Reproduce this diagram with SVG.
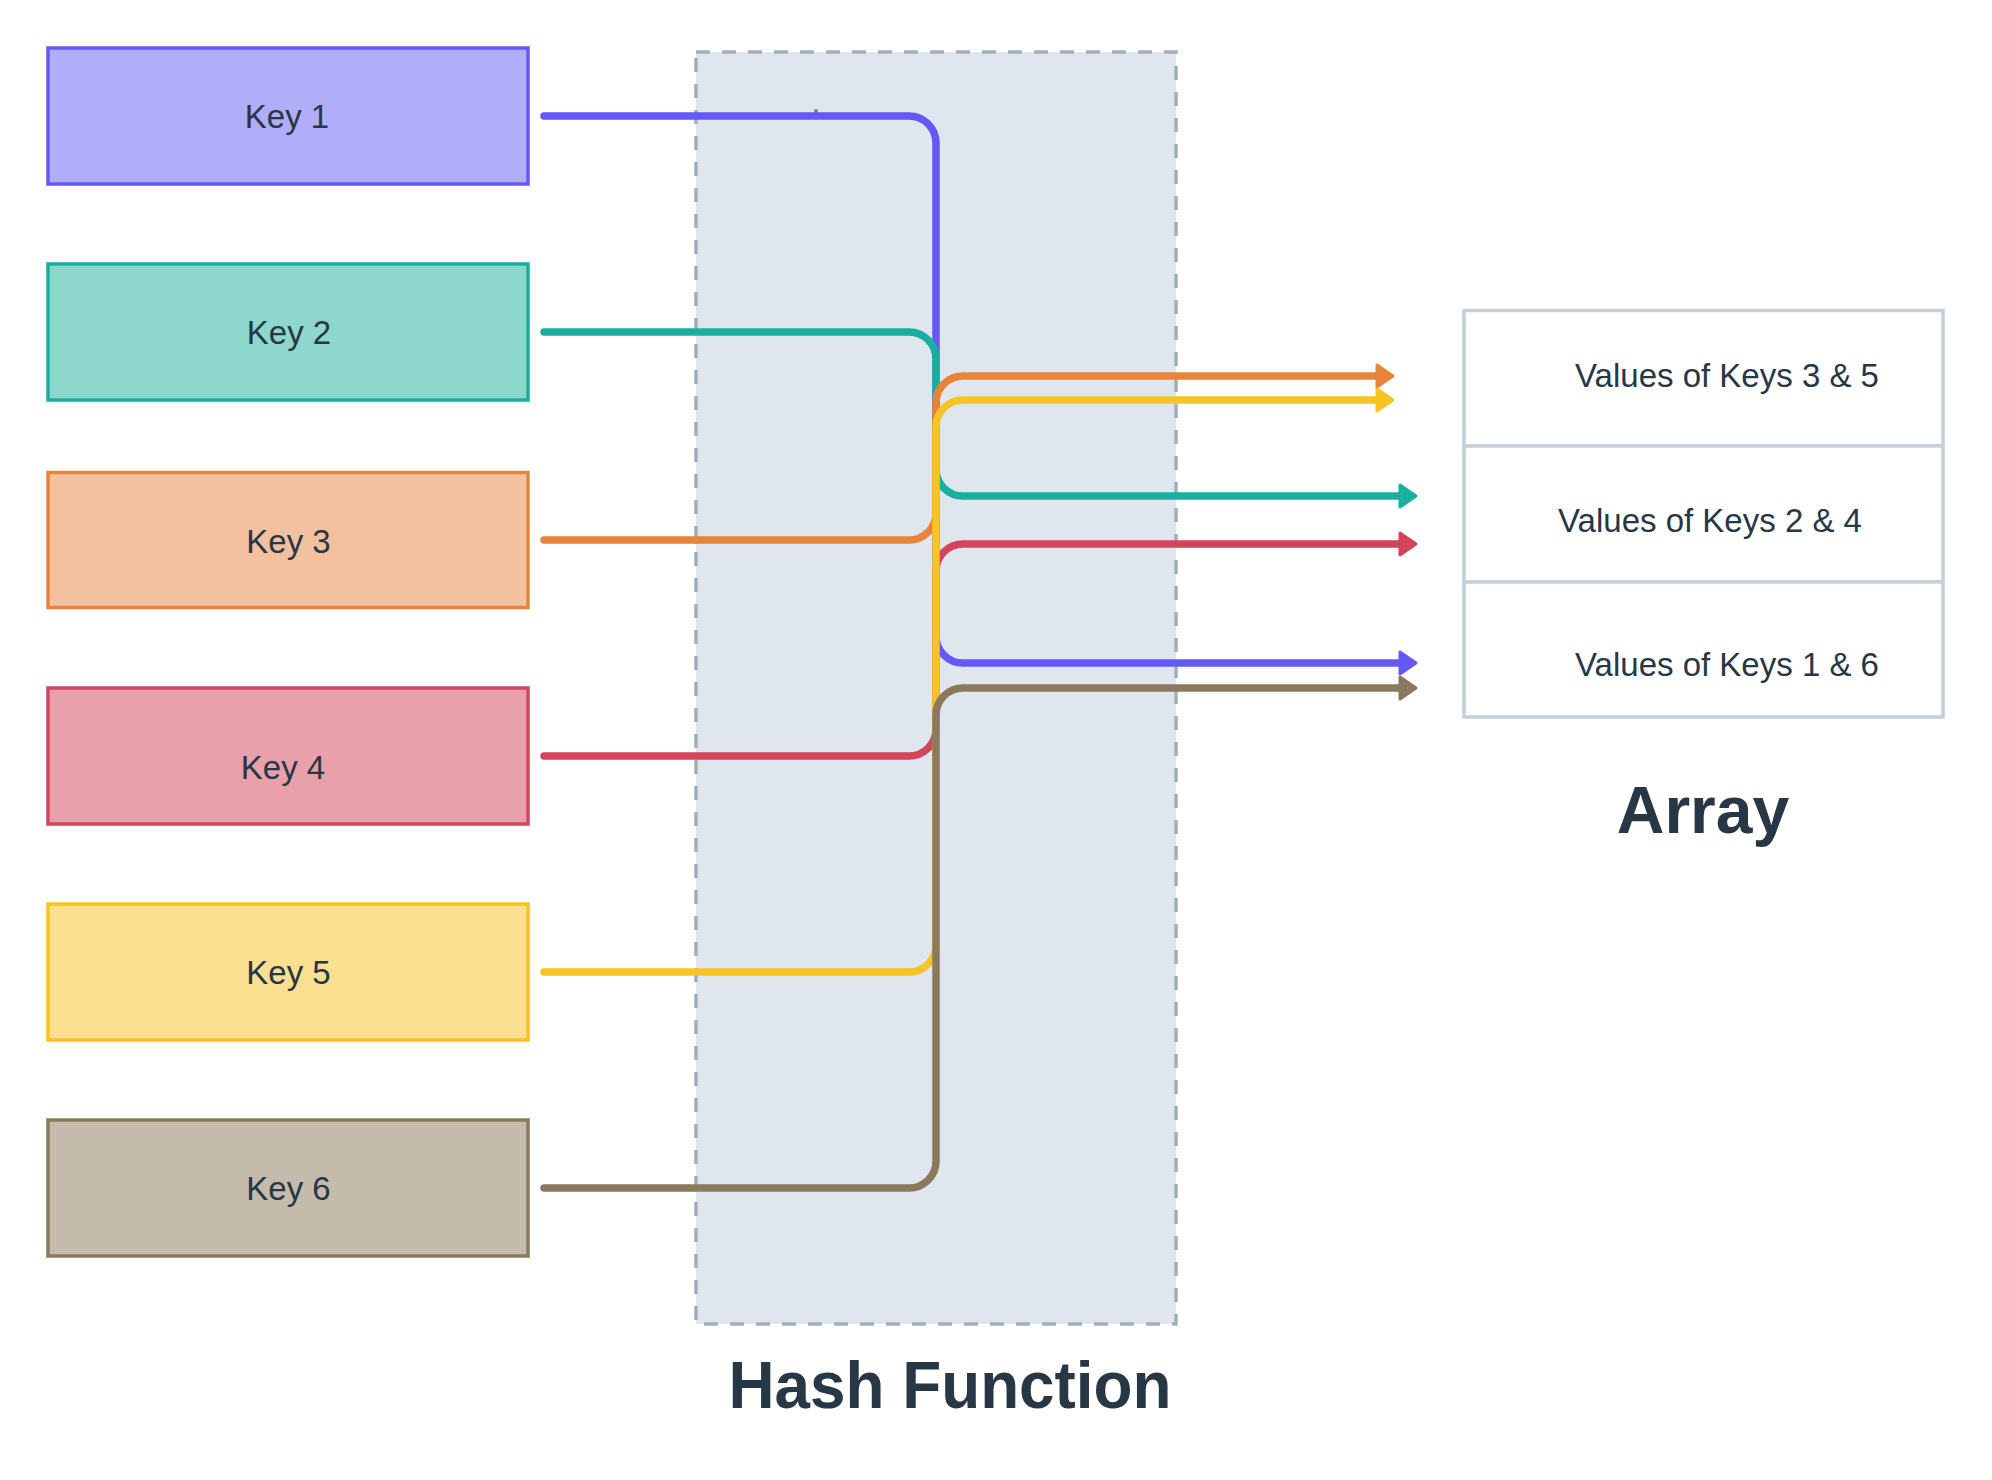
<svg xmlns="http://www.w3.org/2000/svg" width="1992" height="1480" viewBox="0 0 1992 1480">
  <style>
    .key { stroke-width: 3.5; }
    .label { font-family: "Liberation Sans", Arial, sans-serif; font-size: 33px; fill: #283746; text-anchor: middle; }
    .title { font-family: "Liberation Sans", Arial, sans-serif; font-size: 66px; font-weight: bold; fill: #283746; text-anchor: middle; }
    .conn { fill: none; stroke-width: 7.5; stroke-linecap: round; stroke-linejoin: round; }
    .cell { fill: #ffffff; stroke: #c3cfd9; stroke-width: 3.5; }
  </style>
  <defs>
    <marker id="ah-purple" viewBox="-3 -14 24 28" markerWidth="24" markerHeight="28" refX="0" refY="0" orient="auto" markerUnits="userSpaceOnUse">
      <path d="M0,-11 L16,0 L0,11 Z" fill="#6558f5" stroke="#6558f5" stroke-width="3" stroke-linejoin="round"/>
    </marker>
    <marker id="ah-teal" viewBox="-3 -14 24 28" markerWidth="24" markerHeight="28" refX="0" refY="0" orient="auto" markerUnits="userSpaceOnUse">
      <path d="M0,-11 L16,0 L0,11 Z" fill="#1aae9f" stroke="#1aae9f" stroke-width="3" stroke-linejoin="round"/>
    </marker>
    <marker id="ah-orange" viewBox="-3 -14 24 28" markerWidth="24" markerHeight="28" refX="0" refY="0" orient="auto" markerUnits="userSpaceOnUse">
      <path d="M0,-11 L16,0 L0,11 Z" fill="#e8833a" stroke="#e8833a" stroke-width="3" stroke-linejoin="round"/>
    </marker>
    <marker id="ah-red" viewBox="-3 -14 24 28" markerWidth="24" markerHeight="28" refX="0" refY="0" orient="auto" markerUnits="userSpaceOnUse">
      <path d="M0,-11 L16,0 L0,11 Z" fill="#d3455b" stroke="#d3455b" stroke-width="3" stroke-linejoin="round"/>
    </marker>
    <marker id="ah-yellow" viewBox="-3 -14 24 28" markerWidth="24" markerHeight="28" refX="0" refY="0" orient="auto" markerUnits="userSpaceOnUse">
      <path d="M0,-11 L16,0 L0,11 Z" fill="#f7c325" stroke="#f7c325" stroke-width="3" stroke-linejoin="round"/>
    </marker>
    <marker id="ah-brown" viewBox="-3 -14 24 28" markerWidth="24" markerHeight="28" refX="0" refY="0" orient="auto" markerUnits="userSpaceOnUse">
      <path d="M0,-11 L16,0 L0,11 Z" fill="#8a795d" stroke="#8a795d" stroke-width="3" stroke-linejoin="round"/>
    </marker>
  </defs>

  <rect width="1992" height="1480" fill="#ffffff"/>

  <g id="hash-function">
    <rect x="696" y="52" width="480" height="1272" fill="#dfe6ee" stroke="#a0afbb" stroke-width="3.5" stroke-dasharray="14 12"/>
    <circle cx="816" cy="111" r="2" fill="#6f7f8d"/>
    <text class="title" x="950" y="1408" textLength="443" lengthAdjust="spacingAndGlyphs">Hash Function</text>
  </g>

  <g id="key1">
    <rect class="key" x="48" y="48" width="480" height="136" fill="#b1adf9" stroke="#6558f5"/>
    <text class="label" x="287" y="128">Key 1</text>
  </g>
  <g id="key2">
    <rect class="key" x="48" y="264" width="480" height="136" fill="#8ed7cd" stroke="#1aae9f"/>
    <text class="label" x="289" y="344">Key 2</text>
  </g>
  <g id="key3">
    <rect class="key" x="48" y="472.5" width="480" height="135" fill="#f3c19f" stroke="#e8833a"/>
    <text class="label" x="288.5" y="552.5">Key 3</text>
  </g>
  <g id="key4">
    <rect class="key" x="48" y="688" width="480" height="136" fill="#e8a0ab" stroke="#d3455b"/>
    <text class="label" x="283" y="779">Key 4</text>
  </g>
  <g id="key5">
    <rect class="key" x="48" y="904" width="480" height="136" fill="#fae090" stroke="#f7c325"/>
    <text class="label" x="288.5" y="983.5">Key 5</text>
  </g>
  <g id="key6">
    <rect class="key" x="48" y="1120" width="480" height="136" fill="#c4bbad" stroke="#8a795d"/>
    <text class="label" x="288.5" y="1199.5">Key 6</text>
  </g>

  <g id="array">
    <rect class="cell" x="1464" y="310.5" width="479" height="135.5"/>
    <rect class="cell" x="1464" y="446" width="479" height="136"/>
    <rect class="cell" x="1464" y="582" width="479" height="135"/>
    <text class="label" x="1727" y="387">Values of Keys 3 &amp; 5</text>
    <text class="label" x="1710" y="532">Values of Keys 2 &amp; 4</text>
    <text class="label" x="1727" y="676">Values of Keys 1 &amp; 6</text>
    <text class="title" x="1703" y="833">Array</text>
  </g>

  <g id="connectors">
    <path class="conn" stroke="#6558f5" marker-end="url(#ah-purple)" d="M544,116 H909 A27,27 0 0 1 936,143 V636 A27,27 0 0 0 963,663 H1400"/>
    <path class="conn" stroke="#1aae9f" marker-end="url(#ah-teal)" d="M544,332 H909 A27,27 0 0 1 936,359 V469 A27,27 0 0 0 963,496 H1400"/>
    <path class="conn" stroke="#e8833a" marker-end="url(#ah-orange)" d="M544,540 H909 A27,27 0 0 0 936,513 V403 A27,27 0 0 1 963,376 H1377"/>
    <path class="conn" stroke="#d3455b" marker-end="url(#ah-red)" d="M544,756 H909 A27,27 0 0 0 936,729 V571 A27,27 0 0 1 963,544 H1400"/>
    <path class="conn" stroke="#f7c325" marker-end="url(#ah-yellow)" d="M544,972 H909 A27,27 0 0 0 936,945 V427 A27,27 0 0 1 963,400 H1377"/>
    <path class="conn" stroke="#8a795d" marker-end="url(#ah-brown)" d="M544,1188 H909 A27,27 0 0 0 936,1161 V715 A27,27 0 0 1 963,688 H1400"/>
  </g>
</svg>
